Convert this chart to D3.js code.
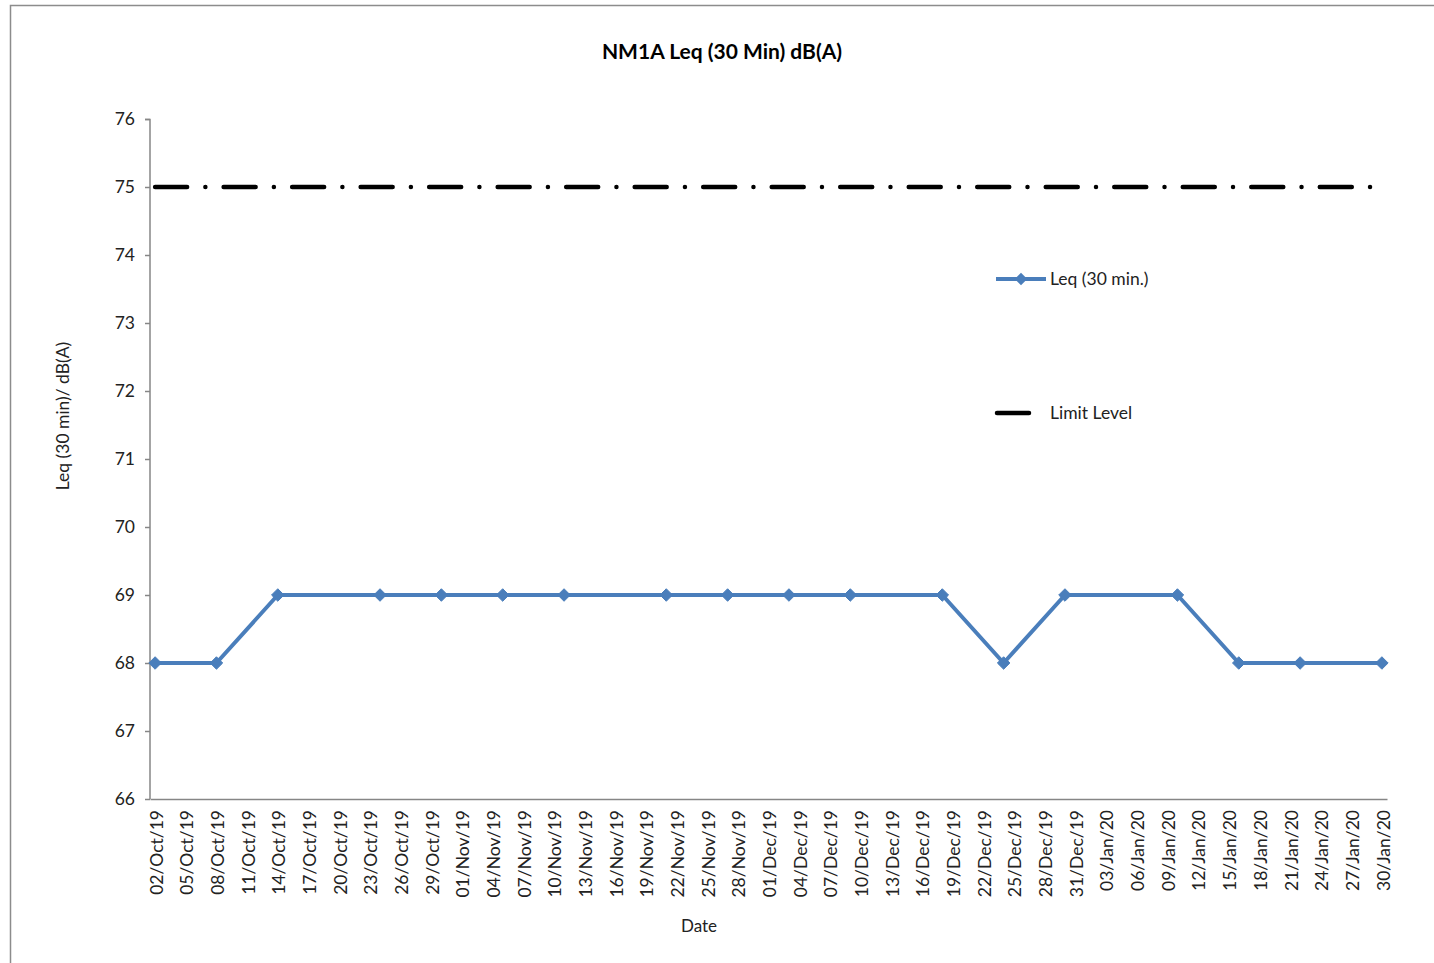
<!DOCTYPE html>
<html><head><meta charset="utf-8">
<script src="https://cdn.jsdelivr.net/npm/d3@7"></script>
<style>body{margin:0;background:#fff;} text{font-family:"Lato","Open Sans",sans-serif;}</style>
</head><body>
<svg id="c" width="1434" height="963"></svg>
<script>
const dates = ["2019-10-02","2019-10-08","2019-10-14","2019-10-24","2019-10-30","2019-11-05","2019-11-11","2019-11-21","2019-11-27","2019-12-03","2019-12-09","2019-12-18","2019-12-24","2019-12-30","2020-01-10","2020-01-16","2020-01-22","2020-01-30"];
const leq = [68,68,69,69,69,69,69,69,69,69,69,69,68,69,69,68,68,68];
const limitDates = ["2019-10-02","2020-01-30"];
const limitValues = [75,75];
const yTicks = [66,67,68,69,70,71,72,73,74,75,76];
const seriesNames = ["Leq (30 min.)","Limit Level"];
const title = "NM1A Leq (30 Min) dB(A)";
const xTitle = "Date";
const yTitle = "Leq (30 min)/ dB(A)";

const parse = d3.utcParse("%Y-%m-%d");
const DAY = 86400000;
const svg = d3.select("#c");
const axisColor = "#868686";
const blue = "#4A7EBB";
const FF = "Lato,'Open Sans',sans-serif";

// frame
svg.append("rect").attr("x",10.5).attr("y",5.5).attr("width",1440).attr("height",1000)
  .attr("fill","none").attr("stroke","#8c8c8c").attr("stroke-width",1.5);

const x0 = parse("2019-10-02"), x1 = parse("2020-01-30");
const x = d3.scaleUtc().domain([new Date(+x0 - DAY/2), new Date(+x1 + DAY/2)]).range([150, 1387]);
const y = d3.scaleLinear().domain([66,76]).range([799,119]);

// title
svg.append("text").attr("x",722).attr("y",59).attr("text-anchor","middle")
  .attr("font-size",21).attr("font-weight","bold").attr("fill","#000").text(title);

// y axis
const yAxis = svg.append("g").attr("transform","translate(150,0)")
  .call(d3.axisLeft(y).tickValues(yTicks).tickSize(5).tickPadding(10).tickFormat(d3.format("d")));
yAxis.selectAll("path,line").attr("stroke",axisColor).attr("stroke-width",1.5);
yAxis.select(".domain").attr("d","M-5,119.5H0V799");
yAxis.selectAll("text").attr("font-size",17.5).attr("fill","#222").style("font-family",FF);

// x axis
const tickDates = d3.range(0,121,3).map(i => new Date(+x0 + i*DAY));
const fmt = d3.utcFormat("%d/%b/%y");
const xAxis = svg.append("g").attr("transform","translate(0,799)")
  .call(d3.axisBottom(x).tickValues(tickDates).tickSize(0).tickFormat(fmt));
xAxis.select(".domain").attr("stroke",axisColor).attr("stroke-width",1.5);
xAxis.selectAll("text").attr("font-size",17.5).attr("fill","#222")
  .style("font-family",FF)
  .attr("transform","rotate(-90)").attr("text-anchor","end")
  .attr("x",-11).attr("y",1).attr("dy","0.35em");

// axis titles
svg.append("text").attr("x",699).attr("y",932).attr("text-anchor","middle")
  .attr("font-size",17).attr("fill","#222").text(xTitle);
svg.append("text").attr("transform","translate(69,416) rotate(-90)").attr("text-anchor","middle")
  .attr("font-size",17.5).attr("fill","#222").text(yTitle);

// limit line
const limData = limitDates.map((d,i)=>({d:parse(d), v:limitValues[i]}));
svg.append("path").datum(limData)
  .attr("d", d3.line().x(d=>x(d.d)).y(d=>y(d.v)))
  .attr("fill","none").attr("stroke","#000").attr("stroke-width",4.5)
  .attr("stroke-linecap","round").attr("stroke-dasharray","32 18.25 0.01 18.25");

// leq series
const data = dates.map((d,i)=>({d:parse(d), v:leq[i]}));
svg.append("path").datum(data)
  .attr("d", d3.line().x(d=>x(d.d)).y(d=>y(d.v)))
  .attr("fill","none").attr("stroke",blue).attr("stroke-width",4).attr("stroke-linejoin","round");
const diamond = d3.symbol().type(d3.symbolDiamond2).size(100);
svg.selectAll(".mk").data(data).join("path").attr("class","mk")
  .attr("transform",d=>`translate(${x(d.d)},${y(d.v)})`)
  .attr("d",diamond).attr("fill",blue).attr("stroke",blue).attr("stroke-width",1);

// legend
const lg = svg.append("g");
lg.append("line").attr("x1",996).attr("x2",1046).attr("y1",279).attr("y2",279)
  .attr("stroke",blue).attr("stroke-width",4);
lg.append("path").attr("transform","translate(1021,279)").attr("d",diamond).attr("fill",blue);
lg.append("text").attr("x",1050).attr("y",285).attr("font-size",17.5).attr("fill","#222").text(seriesNames[0]);
lg.append("line").attr("x1",997).attr("x2",1029).attr("y1",413).attr("y2",413)
  .attr("stroke","#000").attr("stroke-width",4.5).attr("stroke-linecap","round");
lg.append("text").attr("x",1050).attr("y",419).attr("font-size",17.5).attr("fill","#222").text(seriesNames[1]);
</script>
</body></html>
